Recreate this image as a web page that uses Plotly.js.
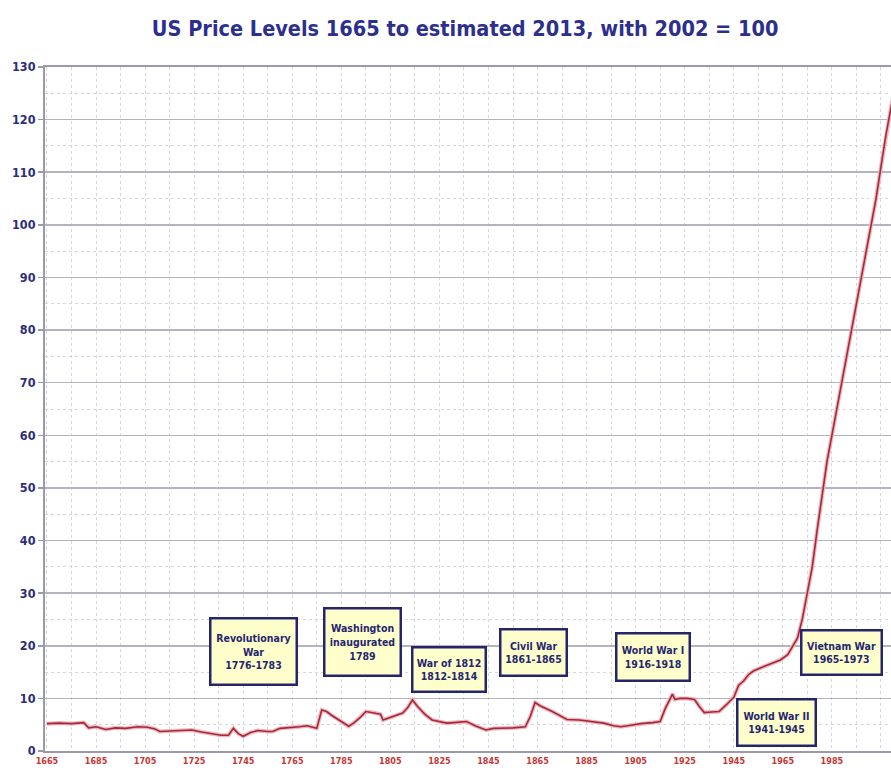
<!DOCTYPE html>
<html>
<head>
<meta charset="utf-8">
<script src="https://cdn.plot.ly/plotly-3.0.1.min.js"></script>
<style>html,body{margin:0;padding:0;background:#fff;}#chart{width:891px;height:780px;}</style>
</head>
<body>
<div id="chart"></div>
<script>
// Data
const years = [1665,1670,1675,1680,1682,1685,1689,1693,1697,1702,1706,1709,1711,1716,1720,1724,1728,1732,1736,1739,1741,1743,1745,1748,1751,1755,1757,1760,1764,1768,1771,1774,1775,1777,1779,1781,1784,1786,1788,1790,1793,1795,1798,1800,1801,1802,1805,1808,1810,1812,1814,1816,1819,1822,1825,1828,1831,1836,1840,1844,1847,1850,1855,1860,1862,1864,1866,1871,1874,1877,1882,1887,1892,1896,1899,1903,1907,1912,1915,1917,1920,1921,1923,1926,1929,1931,1933,1936,1939,1942,1945,1947,1949,1951,1953,1957,1960,1964,1967,1969,1971,1973,1975,1977,1979,1981,1983,1985,1987,1989,1991,1993,1995,1997,1999,2001,2003,2005,2007,2009,2011,2013];
const priceLevel = [5.2,5.3,5.2,5.4,4.4,4.6,4.1,4.4,4.3,4.6,4.5,4.2,3.7,3.8,3.9,4.0,3.6,3.3,3.0,3.0,4.3,3.3,2.8,3.5,3.9,3.7,3.7,4.3,4.4,4.6,4.8,4.4,4.3,7.8,7.5,6.8,5.9,5.2,4.7,5.3,6.5,7.5,7.3,7.2,7.0,5.9,6.4,6.9,7.2,8.2,9.7,8.5,7.0,5.9,5.6,5.3,5.4,5.6,4.7,4.0,4.3,4.3,4.4,4.6,6.5,9.2,8.6,7.5,6.7,6.0,5.9,5.6,5.3,4.8,4.6,4.9,5.2,5.4,5.6,8.0,10.8,9.8,10.0,10.0,9.8,8.4,7.3,7.4,7.5,8.8,10.2,12.5,13.3,14.5,15.2,16.0,16.5,17.3,18.3,19.8,21.5,25.2,30,35,42,49,55,60,65,70,75,80,85,89.5,95,100,105,111,117,122,127,132];
const xTickVals = [1665,1685,1705,1725,1745,1765,1785,1805,1825,1845,1865,1885,1905,1925,1945,1965,1985,2005];
const xTickText = ["1665","1685","1705","1725","1745","1765","1785","1805","1825","1845","1865","1885","1905","1925","1945","1965","1985","2005"];
const eventLabels = ["Revolutionary<br>War<br>1776-1783","Washington<br>inaugurated<br>1789","War of 1812<br>1812-1814","Civil War<br>1861-1865","World War I<br>1916-1918","World War II<br>1941-1945","Vietnam War<br>1965-1973"];

// Label placement (layout only)
const labelPos = [[1749,19.0],[1793.8,20.7],[1828.9,15.4],[1863.5,18.8],[1912,17.9],[1962.6,5.5],[1989.1,18.8]];
const labelSize = [[80,60],[70,61],[67,38],[60,40],[67,41],[72,40],[74,38]];

const NARROW = '"Liberation Sans Narrow", "DejaVu Sans Condensed", "Liberation Sans", Arial, sans-serif';

const traces = [
  {x: years, y: priceLevel, type: 'scatter', mode: 'lines', line: {color: '#f3b3bb', width: 4}, hoverinfo: 'skip', showlegend: false},
  {x: years, y: priceLevel, type: 'scatter', mode: 'lines', line: {color: '#a02c3c', width: 1.6}, showlegend: false}
];

const annotations = eventLabels.map((t, i) => ({
  text: t,
  x: labelPos[i][0], y: labelPos[i][1], xref: 'x', yref: 'y',
  showarrow: false,
  width: labelSize[i][0], height: labelSize[i][1],
  bgcolor: '#ffffcc', bordercolor: '#25256e', borderwidth: 2.5, borderpad: 2,
  font: {family: NARROW, size: 10.5, weight: 'bold', color: '#26266f'},
  align: 'center', valign: 'middle'
}));

const layout = {
  width: 891, height: 780,
  paper_bgcolor: '#ffffff', plot_bgcolor: '#ffffff',
  margin: {l: 45, r: 0, t: 67, b: 29},
  title: {text: 'US Price Levels 1665 to estimated 2013, with 2002 = 100', x: 0.522, xref: 'container', y: 0.964, yref: 'container', yanchor: 'middle', xanchor: 'center',
          font: {family: NARROW, size: 21.5, weight: 'bold', color: '#2c2f8e'}},
  xaxis: {
    range: [1664.2, 2009.1], tickmode: 'array', tickvals: xTickVals, ticktext: xTickText,
    tickfont: {family: NARROW, size: 9, weight: 'bold', color: '#c53535'},
    showgrid: true, gridcolor: '#d6d6de', griddash: 'dot', gridwidth: 1,
    minor: {dtick: 10, tick0: 1665, showgrid: true, gridcolor: '#d6d6de', griddash: 'dot', gridwidth: 1},
    showline: true, linecolor: '#9a9aa8', linewidth: 2, mirror: true,
    ticks: '', zeroline: false
  },
  yaxis: {
    range: [0, 130], dtick: 10, tick0: 0,
    tickfont: {family: NARROW, size: 12.5, weight: 'bold', color: '#2d2d7c'},
    showgrid: true, gridcolor: '#b4b4be', gridwidth: 1.5,
    minor: {dtick: 5, showgrid: true, gridcolor: '#d6d6de', griddash: 'dot', gridwidth: 1},
    showline: true, linecolor: '#9a9aa8', linewidth: 2,
    ticks: 'outside', ticklen: 5, tickcolor: '#9a9aa8', tickwidth: 1.5,
    zeroline: false
  },
  annotations: annotations
};

Plotly.newPlot('chart', traces, layout, {displayModeBar: false, staticPlot: true});
</script>
</body>
</html>
